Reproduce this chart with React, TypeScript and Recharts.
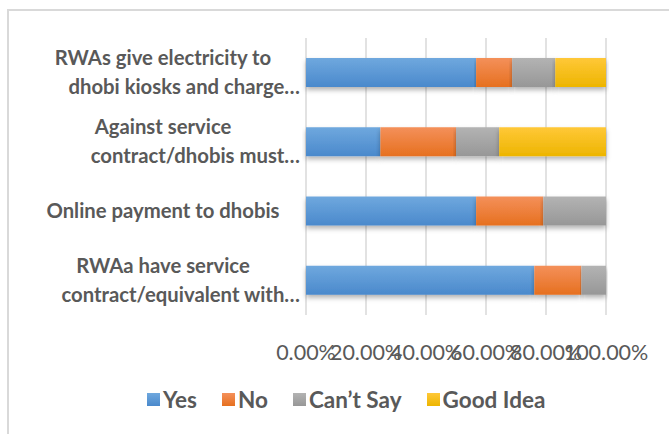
import React from 'react';
import { BarChart, Bar, XAxis, YAxis, CartesianGrid } from 'recharts';

// top-to-bottom order, as drawn
const categories = [
    ['RWAs give electricity to', 'dhobi kiosks and charge…'],
    ['Against service', 'contract/dhobis must…'],
    ['Online payment to dhobis'],
    ['RWAa have service', 'contract/equivalent with…'],
];

const yes = [0.567, 0.248, 0.567, 0.761];
const no = [0.12, 0.252, 0.224, 0.157];
const cantSay = [0.144, 0.144, 0.209, 0.082];
const goodIdea = [0.169, 0.356, 0, 0];

const ticks = [0, 0.2, 0.4, 0.6, 0.8, 1];

const SERIES = [
    { key: 'yes', name: 'Yes', top: '#6fa8de', bottom: '#4a89cc' },
    { key: 'no', name: 'No', top: '#f4905a', bottom: '#e6701f' },
    { key: 'cant', name: 'Can’t Say', top: '#b3b3b3', bottom: '#979797' },
    { key: 'good', name: 'Good Idea', top: '#ffc838', bottom: '#edb500' },
];

const data = categories.map((lines, i) => ({
    name: lines.join(' '),
    yes: yes[i],
    no: no[i],
    cant: cantSay[i],
    good: goodIdea[i],
}));

const TEXT = '#595959';
const FONT = 'Lato, "Open Sans", sans-serif';

const CategoryTick = ({ y, payload, index }: any) => {
    const lines: string[] = categories[index] ?? [payload.value];
    const offsets = lines.length === 1 ? [0] : [-14.5, 14.5];
    return (
        <g>
            {lines.map((line, i) => {
                const cut = line.endsWith('…');
                return (
                    <text
                        key={i}
                        x={cut ? 300 : 163}
                        y={y + offsets[i]}
                        dy="0.35em"
                        textAnchor={cut ? 'end' : 'middle'}
                        fill={TEXT}
                        fontFamily={FONT}
                        fontWeight="bold"
                        fontSize={20.3}
                    >
                        {line}
                    </text>
                );
            })}
        </g>
    );
};

const ShadowRect = (props: any) => {
    const { x, y, width, height, fill } = props;
    if (!width || width <= 0) return null;
    return <rect x={x} y={y} width={width} height={height} fill={fill} filter="url(#barShadow)" />;
};

export default function App() {
    return (
        <div style={{ position: 'absolute', left: 0, top: 0, width: 669, height: 434, background: '#fff', overflow: 'hidden' }}>
            <div
                style={{
                    position: 'absolute',
                    left: 7,
                    top: 9,
                    width: 700,
                    height: 460,
                    border: '2px solid #d9d9d9',
                    boxSizing: 'border-box',
                }}
            />
            <div style={{ position: 'absolute', left: 0, top: 0 }}>
                <BarChart
                    width={669}
                    height={434}
                    data={data}
                    layout="vertical"
                    margin={{ top: 38, right: 63, bottom: 69, left: 0 }}
                    barSize={29}
                >
                    <defs>
                        {SERIES.map((s) => (
                            <linearGradient key={s.key} id={`grad-${s.key}`} x1="0" y1="0" x2="0" y2="1">
                                <stop offset="0%" stopColor={s.top} />
                                <stop offset="100%" stopColor={s.bottom} />
                            </linearGradient>
                        ))}
                        <filter id="barShadow" x="-5%" y="-20%" width="110%" height="160%">
                            <feDropShadow dx="0" dy="3" stdDeviation="2.5" floodColor="#000" floodOpacity="0.3" />
                        </filter>
                    </defs>
                    <CartesianGrid horizontal={false} stroke="#d9d9d9" strokeWidth={1.5} />
                    <XAxis
                        type="number"
                        domain={[0, 1]}
                        ticks={ticks}
                        axisLine={false}
                        tickLine={false}
                        interval={0}
                        height={50}
                        tickMargin={24}
                        tickFormatter={(v) => `${(v * 100).toFixed(2)}%`}
                        tick={{ fill: TEXT, fontSize: 21.5, fontFamily: FONT }}
                    />
                    <YAxis
                        type="category"
                        dataKey="name"
                        width={306}
                        axisLine={false}
                        tickLine={false}
                        interval={0}
                        tick={<CategoryTick />}
                    />
                    {SERIES.map((s) => (
                        <Bar
                            key={s.key}
                            dataKey={s.key}
                            name={s.name}
                            stackId="a"
                            fill={`url(#grad-${s.key})`}
                            shape={<ShadowRect />}
                            isAnimationActive={false}
                        />
                    ))}
                </BarChart>
            </div>
            <div
                style={{
                    position: 'absolute',
                    left: 147,
                    top: 386,
                    display: 'flex',
                    alignItems: 'center',
                    fontFamily: FONT,
                    fontWeight: 'bold',
                    fontSize: 22.5,
                    color: TEXT,
                }}
            >
                {SERIES.map((s) => (
                    <div key={s.key} style={{ display: 'flex', alignItems: 'center', marginRight: 25 }}>
                        <span style={{ display: 'inline-block', width: 13, height: 13, background: `linear-gradient(${s.top}, ${s.bottom})`, marginRight: 3 }} />
                        <span>{s.name}</span>
                    </div>
                ))}
            </div>
        </div>
    );
}
